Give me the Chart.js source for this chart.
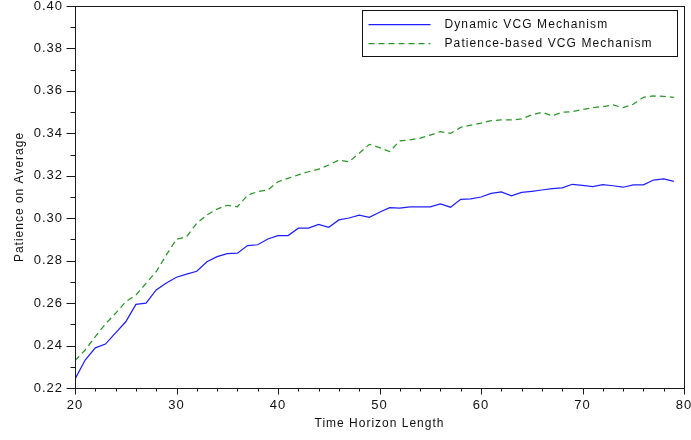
<!DOCTYPE html>
<html>
<head>
<meta charset="utf-8">
<script src="https://cdn.jsdelivr.net/npm/chart.js@4"></script>
<style>
  html, body { margin: 0; padding: 0; background: #ffffff; }
  #c { display: block; }
</style>
</head>
<body>
<canvas id="c" width="691" height="440"></canvas>
<script>
// ---- data ----
const xValues = [20,21,22,23,24,25,26,27,28,29,30,31,32,33,34,35,36,37,38,39,
                 40,41,42,43,44,45,46,47,48,49,50,51,52,53,54,55,56,57,58,59,
                 60,61,62,63,64,65,66,67,68,69,70,71,72,73,74,75,76,77,78,79];

const dynamicVCG = [0.2242,0.2332,0.2389,0.2407,0.2460,0.2512,0.2594,0.2600,0.2662,0.2695,
                    0.2722,0.2737,0.2750,0.2795,0.2819,0.2833,0.2835,0.2871,0.2875,0.2902,
                    0.2918,0.2918,0.2953,0.2953,0.2971,0.2957,0.2992,0.3001,0.3015,0.3004,
                    0.3028,0.3050,0.3048,0.3054,0.3054,0.3054,0.3067,0.3052,0.3089,0.3091,
                    0.3100,0.3117,0.3124,0.3105,0.3122,0.3127,0.3133,0.3139,0.3143,0.3160,
                    0.3155,0.3149,0.3158,0.3153,0.3146,0.3157,0.3157,0.3180,0.3185,0.3174];

const patienceVCG = [0.2329,0.2379,0.2442,0.2502,0.2552,0.2607,0.2638,0.2693,0.2748,0.2827,
                     0.2901,0.2913,0.2976,0.3015,0.3043,0.3061,0.3054,0.3109,0.3125,0.3133,
                     0.3172,0.3188,0.3204,0.3219,0.3231,0.3251,0.3274,0.3266,0.3306,0.3348,
                     0.3333,0.3314,0.3365,0.3369,0.3377,0.3392,0.3408,0.3400,0.3428,0.3439,
                     0.3448,0.3460,0.3463,0.3463,0.3468,0.3487,0.3499,0.3483,0.3499,0.3502,
                     0.3512,0.3521,0.3526,0.3534,0.3521,0.3537,0.3570,0.3576,0.3574,0.3570];

const seriesNames = ['Dynamic VCG Mechanism', 'Patience-based VCG Mechanism'];
const xMin = 20, xMax = 80, xMajor = 10, xMinor = 2;
const yMin = 0.22, yMax = 0.40, yMajor = 0.02, yMinor = 0.01;
const xTitle = 'Time Horizon Length';
const yTitle = 'Patience on Average';

// ---- styling ----
const TEXT = '#111111';
const AXIS = '#1a1a1a';
const FONT = 'Liberation Sans, Arial, Helvetica, sans-serif';

const isMajorX = v => Math.abs(v / xMajor - Math.round(v / xMajor)) < 1e-6;
const isMajorY = v => Math.abs(v / yMajor - Math.round(v / yMajor)) < 1e-6;

const framePlugin = {
  id: 'frame',
  beforeDraw(chart) {
    const ctx = chart.ctx;
    ctx.save();
    ctx.fillStyle = '#ffffff';
    ctx.fillRect(0, 0, chart.width, chart.height);
    ctx.restore();
    ctx.letterSpacing = '1px';
  },
  afterDraw(chart) {
    const ctx = chart.ctx;
    const a = chart.chartArea;
    const xs = chart.scales.x, ys = chart.scales.y;
    ctx.save();
    ctx.strokeStyle = AXIS;
    ctx.lineWidth = 1;
    // plot frame
    const L = Math.round(a.left) + 0.5, R = Math.round(a.right) + 0.5;
    const T = Math.round(a.top) + 0.5, B = Math.round(a.bottom) + 0.5;
    ctx.strokeRect(L, T, R - L, B - T);
    // tick marks (outside)
    ctx.beginPath();
    xs.ticks.forEach(t => {
      const p = Math.round(xs.getPixelForValue(t.value)) + 0.5;
      const len = isMajorX(t.value) ? 6 : 3;
      ctx.moveTo(p, B); ctx.lineTo(p, B + len);
    });
    ys.ticks.forEach(t => {
      const p = Math.round(ys.getPixelForValue(t.value)) + 0.5;
      const len = isMajorY(t.value) ? 9 : 5;
      ctx.moveTo(L, p); ctx.lineTo(L - len, p);
    });
    ctx.stroke();

    // legend box
    const bw = 315, bh = 46;
    const bx = Math.round(a.right) - 7 - bw + 0.5;
    const by = Math.round(a.top) + 4 + 0.5;
    ctx.fillStyle = '#ffffff';
    ctx.fillRect(bx, by, bw, bh);
    ctx.strokeStyle = '#111111';
    ctx.strokeRect(bx, by, bw, bh);
    ctx.font = '12px ' + FONT;
    ctx.letterSpacing = '1.1px';
    ctx.textBaseline = 'middle';
    ctx.textAlign = 'left';
    chart.data.datasets.forEach((ds, i) => {
      const yy = Math.round(by + 13 + i * 19.5) + 0.5;
      ctx.beginPath();
      ctx.strokeStyle = ds.borderColor;
      ctx.lineWidth = ds.borderWidth;
      ctx.setLineDash(ds.borderDash || []);
      ctx.moveTo(bx + 6, yy);
      ctx.lineTo(bx + 68, yy);
      ctx.stroke();
      ctx.setLineDash([]);
      ctx.fillStyle = TEXT;
      ctx.fillText(ds.label, bx + 82, yy);
    });
    ctx.restore();
  }
};

const ctx = document.getElementById('c').getContext('2d');
new Chart(ctx, {
  type: 'line',
  data: {
    datasets: [
      {
        label: seriesNames[0],
        data: xValues.map((x, i) => ({ x: x, y: dynamicVCG[i] })),
        borderColor: '#1f1fff',
        borderWidth: 1.25,
        pointRadius: 0,
        tension: 0,
        fill: false
      },
      {
        label: seriesNames[1],
        data: xValues.map((x, i) => ({ x: x, y: patienceVCG[i] })),
        borderColor: '#2a962a',
        borderWidth: 1.25,
        borderDash: [6, 4],
        pointRadius: 0,
        tension: 0,
        fill: false
      }
    ]
  },
  options: {
    responsive: false,
    animation: false,
    devicePixelRatio: 1,
    layout: { padding: { top: 6, right: 7, left: 0, bottom: 0 } },
    plugins: { legend: { display: false }, tooltip: { enabled: false } },
    scales: {
      x: {
        type: 'linear',
        min: xMin, max: xMax,
        grid: { display: false, drawTicks: false },
        border: { display: false },
        ticks: {
          stepSize: xMinor,
          autoSkip: false,
          maxRotation: 0,
          padding: 10,
          color: TEXT,
          font: { family: FONT, size: 13 },
          callback: v => isMajorX(v) ? String(Math.round(v)) : ''
        },
        title: {
          display: true,
          text: xTitle,
          color: TEXT,
          font: { family: FONT, size: 12 },
          padding: { top: 0, bottom: 9 }
        },
        afterFit: s => { s.height = 52; s.paddingLeft = 0; s.paddingRight = 0; }
      },
      y: {
        min: yMin, max: yMax,
        grid: { display: false, drawTicks: false },
        border: { display: false },
        ticks: {
          stepSize: yMinor,
          autoSkip: false,
          padding: 12,
          color: TEXT,
          font: { family: FONT, size: 13 },
          callback: v => isMajorY(v) ? v.toFixed(2) : ''
        },
        title: {
          display: true,
          text: yTitle,
          color: TEXT,
          font: { family: FONT, size: 12 },
          padding: { top: 12, bottom: 0 }
        },
        afterFit: s => { s.width = 75; s.paddingTop = 0; s.paddingBottom = 0; }
      }
    }
  },
  plugins: [framePlugin]
});
</script>
</body>
</html>
